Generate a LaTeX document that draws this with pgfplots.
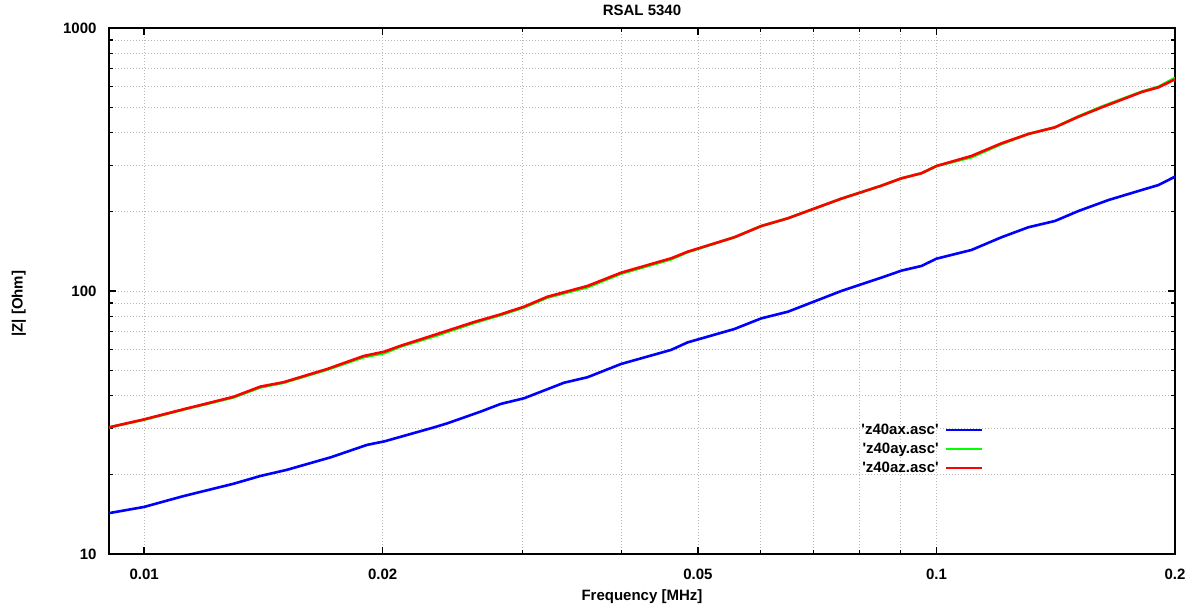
\documentclass[border=0pt]{standalone}
\usepackage{fontspec}
\setmainfont{Liberation Sans}
\usepackage{pgfplots}
\pgfplotsset{compat=1.18}
\definecolor{zblue}{RGB}{0,0,255}
\definecolor{zgreen}{RGB}{0,255,0}
\definecolor{zred}{RGB}{255,0,0}
\newcommand{\lbl}{\fontsize{15}{18}\selectfont\bfseries}
\begin{document}
\begin{tikzpicture}
\useasboundingbox (-109pt,-53pt) rectangle (1086pt,554pt);
\begin{axis}[
    scale only axis, width=1066pt, height=526pt,
    xmode=log, ymode=log,
    xmin=0.00903, xmax=0.2, ymin=10, ymax=1000,
    xtick={0.01,0.02,0.05,0.1,0.2},
    xticklabels={0.01,0.02,0.05,0.1,0.2},
    minor xtick={0.03,0.04,0.06,0.07,0.08,0.09},
    ytick={10,100,1000},
    yticklabels={10,100,1000},
    minor ytick={20,30,40,50,60,70,80,90,200,300,400,500,600,700,800,900},
    grid=both,
    major grid style={gray!55, dash pattern=on 1.2pt off 1.8pt, line width=0.7pt},
    minor grid style={gray!55, dash pattern=on 1.2pt off 1.8pt, line width=0.7pt},
    axis line style={line width=1.5pt},
    tick style={black, line width=1.3pt},
    major tick length=7pt, minor tick length=4pt,
    tick align=inside,
    xticklabel style={font=\lbl, yshift=-12pt},
    yticklabel style={font=\lbl, xshift=-9pt},
    title={RSAL 5340},
    title style={at={(0.5,1.0114)}, anchor=base, font=\lbl},
    xlabel={Frequency [MHz]},
    xlabel style={at={(0.5,-0.0875)}, anchor=base, font=\lbl},
    ylabel={|Z| [Ohm]},
    ylabel style={at={(-0.0810,0.476)}, anchor=base, font=\lbl},
    legend style={draw=none, fill=none, at={(0.8208,0.2505)}, anchor=north east,
        inner sep=0pt, row sep=4pt, column sep=5pt, font=\lbl,
        nodes={inner sep=1.5pt}},
    legend cell align=right,
    legend plot pos=right,
    legend image code/.code={\draw[#1] (0pt,0pt) -- (36pt,0pt);},
]
\addplot[zblue, line width=2.6pt] coordinates {
    (0.00903,14.3) (0.01,15.1) (0.01121,16.6) (0.01297,18.5) (0.01402,19.8)
    (0.01515,20.9) (0.01719,23.3) (0.01912,26.0) (0.0201,26.8) (0.02322,30.3)
    (0.02414,31.4) (0.0266,34.8) (0.02818,37.2) (0.03017,39.1) (0.03389,44.8)
    (0.03628,47.0) (0.04,52.8) (0.04624,59.7) (0.04854,63.8) (0.05559,71.7)
    (0.0601,78.7) (0.06494,83.4) (0.07585,100) (0.08521,112.4) (0.09032,119.5)
    (0.09573,124.5) (0.1,132.7) (0.1107,143.2) (0.1208,160.1) (0.1306,174.7)
    (0.1411,184.6) (0.1511,201.5) (0.1649,221.8) (0.1816,242.1) (0.1907,252.9)
    (0.2,272.1)
};
\addlegendentry{\textquotesingle z40ax.asc\textquotesingle}
\addplot[zgreen, line width=2.6pt] coordinates {
    (0.00903,30.3) (0.01,32.4) (0.01121,35.4) (0.01297,39.4) (0.01402,43.0)
    (0.0150,44.8) (0.01702,50.2) (0.01893,56.0) (0.0201,58.0) (0.02107,61.5)
    (0.02322,67.2) (0.02608,75.6) (0.02818,81.0) (0.03017,86.6) (0.03229,94.4)
    (0.03628,103.3) (0.04,116.4) (0.04624,131.9) (0.04854,140.6) (0.05559,160.1)
    (0.0601,176.6) (0.06494,189.0) (0.07585,224.4) (0.08521,251.4) (0.09032,268.2)
    (0.09573,280.3) (0.1,298.7) (0.1107,322.5) (0.1208,362.0) (0.1306,395.4)
    (0.1411,419.2) (0.1511,461.5) (0.1617,502.5) (0.1816,573) (0.1907,598)
    (0.2,646)
};
\addlegendentry{\textquotesingle z40ay.asc\textquotesingle}
\addplot[zred, line width=2.6pt] coordinates {
    (0.00903,30.3) (0.01,32.5) (0.01121,35.5) (0.01297,39.6) (0.01402,43.3)
    (0.0150,45.0) (0.01702,50.5) (0.01893,56.6) (0.0201,58.8) (0.02107,61.9)
    (0.02322,68.0) (0.02608,76.2) (0.02818,81.5) (0.03017,87.2) (0.03229,95.1)
    (0.03628,104.5) (0.04,117.4) (0.04624,133.1) (0.04854,141.1) (0.05559,160.1)
    (0.0601,176.6) (0.06494,189.0) (0.07585,224.4) (0.08521,251.4) (0.09032,268.2)
    (0.09573,280.3) (0.1,298.7) (0.1107,326.2) (0.1208,364.4) (0.1306,395.4)
    (0.1411,419.2) (0.1511,459.9) (0.1617,499.4) (0.1816,571) (0.1907,595)
    (0.2,638)
};
\addlegendentry{\textquotesingle z40az.asc\textquotesingle}
\end{axis}
\end{tikzpicture}
\end{document}
